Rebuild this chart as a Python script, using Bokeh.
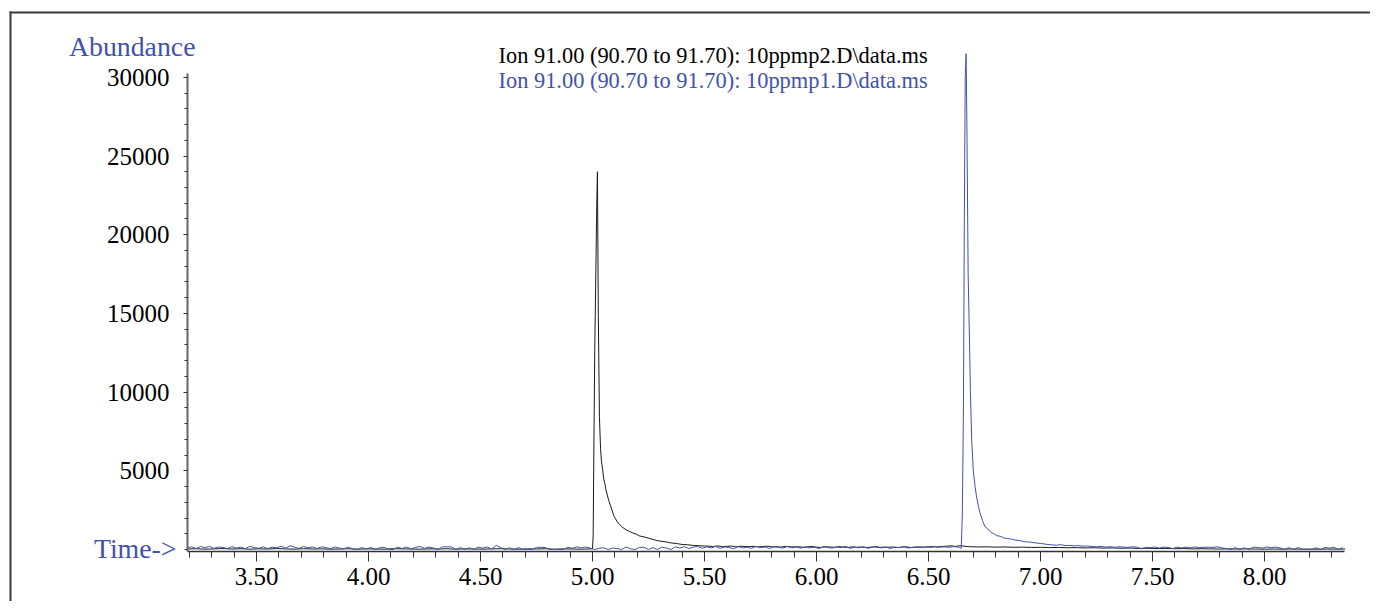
import numpy as np
from bokeh.plotting import figure
from bokeh.models import Range1d, FixedTicker, NumeralTickFormatter, Label, BoxAnnotation
from bokeh.embed import file_html
from bokeh.resources import INLINE

# ---------------- data ----------------
TITLE_BLACK = "Ion 91.00 (90.70 to 91.70): 10ppmp2.D\\data.ms"
TITLE_BLUE = "Ion 91.00 (90.70 to 91.70): 10ppmp1.D\\data.ms"

x_major = [3.5, 4.0, 4.5, 5.0, 5.5, 6.0, 6.5, 7.0, 7.5, 8.0]
x_minor = [3.2, 3.3, 3.4, 3.5, 3.6, 3.7, 3.8, 3.9, 4.0, 4.1, 4.2, 4.3, 4.4, 4.5, 4.6, 4.7, 4.8, 4.9,
           5.0, 5.1, 5.2, 5.3, 5.4, 5.5, 5.6, 5.7, 5.8, 5.9, 6.0, 6.1, 6.2, 6.3, 6.4, 6.5, 6.6, 6.7,
           6.8, 6.9, 7.0, 7.1, 7.2, 7.3, 7.4, 7.5, 7.6, 7.7, 7.8, 7.9, 8.0, 8.1, 8.2, 8.3]
y_major = [5000, 10000, 15000, 20000, 25000, 30000]
y_minor = [0, 1000, 2000, 3000, 4000, 5000, 6000, 7000, 8000, 9000, 10000, 11000, 12000, 13000,
           14000, 15000, 16000, 17000, 18000, 19000, 20000, 21000, 22000, 23000, 24000, 25000,
           26000, 27000, 28000, 29000, 30000]

# blue trace (10ppmp1): baseline scans every 0.02 min from 3.19 min
blue_base1_start = 3.19
blue_base1 = [80, 170, 60, 190, 110, 200, 70, 160, 130, 60, 180, 90, 150, 50, 200, 120, 80, 170, 60, 150,
              110, 210, 90, 240, 140, 70, 190, 110, 160, 60, 170, 120, 50, 160, 90, 40, 150, 30,
              0, 120, 30, 130, 0, 110, 140, 0, 0,
              150, 60, 160, 40, 140, 190, 70, 150, 100, 0,
              170, 170, 170,
              0, 120, 0, 110, 0,
              150, 90, 160,
              30, 260, 120, 0,
              110, 0, 120, 0, 0, 0,
              130, 140, 120,
              0, 0, 0, 0,
              140, 80, 170, 100, 160, 90,
              0, 80, 110, 0, 90, 60, 0,
              160, 40, 0, 130, 140, 0, 120, 0, 150, 90, 0, 170,
              90, 180, 60, 150, 200, 80, 170, 110, 190, 70, 160, 130, 50, 180, 100, 150, 70, 200,
              120, 160, 60, 170, 140, 90, 190, 110, 150, 80,
              170, 100, 150, 60, 180, 130, 90, 160, 120, 200, 70, 150, 110, 170, 80, 140, 190, 100,
              160, 60, 150, 120, 180, 90, 140, 170, 110, 160, 130, 190, 150, 170, 140, 180, 160]
blue_peak_t = [6.640, 6.646, 6.651, 6.656, 6.660, 6.664, 6.668, 6.672, 6.677, 6.683, 6.687, 6.693,
               6.700, 6.708, 6.715, 6.723, 6.730, 6.741, 6.752, 6.765, 6.778, 6.790, 6.805, 6.820,
               6.835, 6.850, 6.870, 6.890, 6.910, 6.930, 6.955, 6.980, 7.005, 7.030]
blue_peak_v = [120, 60, 2200, 9000, 21000, 30000, 31500, 26000, 17500, 13300, 10100, 6900,
               5000, 4000, 3300, 2750, 2300, 1850, 1450, 1300, 1100, 1020, 880, 840,
               740, 700, 660, 590, 560, 490, 470, 410, 380, 320]
blue_base2_start = 7.05
blue_base2 = [300, 270, 310, 250, 260, 230, 250, 210, 220, 190,
              170, 200, 150, 180, 140, 170, 160, 130, 170, 150,
              40, 140, 120, 160, 90, 150, 130, 60, 150, 100,
              150, 110, 160, 120, 140, 150, 130, 170, 100, 60,
              0, 120, 0, 110, 0, 150, 130, 90, 160, 120,
              150, 100, 0, 120, 0, 130, 0, 0, 0, 110,
              0, 130, 90, 140, 0, 120]

# black trace (10ppmp2)
black_base1_start = 3.19
black_base1 = [30, 50, 20, 40, 60, 30, 50, 20, 40, 30, 60, 40, 20, 50, 30, 40, 20, 30, 50, 20,
               40, 30, 20, 50, 40, 30, 20, 40, 30, 50, 20, 40, 30, 20, 40, 50, 30, 20, 40, 30,
               50, 20, 40, 30, 20, 40]
black_peak_t = [5.000, 5.003, 5.006, 5.010, 5.015, 5.019, 5.022, 5.026, 5.031, 5.036, 5.040, 5.045,
                5.050, 5.055, 5.060, 5.067, 5.073, 5.080, 5.087, 5.095, 5.103, 5.111, 5.120, 5.130,
                5.140, 5.150, 5.165, 5.180, 5.195, 5.210, 5.230, 5.250, 5.270, 5.290, 5.310, 5.330,
                5.350, 5.375, 5.400, 5.425, 5.450, 5.475, 5.500]
black_peak_v = [40, 900, 6300, 12600, 17700, 21900, 24000, 14800, 8400, 6400, 5600, 5100,
                4500, 4200, 3800, 3400, 3100, 2800, 2500, 2150, 1950, 1750, 1600, 1450,
                1350, 1250, 1150, 1050, 980, 860, 800, 720, 640, 560, 520, 480,
                420, 380, 320, 300, 260, 240, 220]
black_base2_start = 5.52
black_base2 = [210, 190, 230, 180, 200, 220, 170, 210, 190, 180,
               200, 160, 190, 210, 170, 180, 150, 200, 170, 160,
               180, 140, 170, 190, 150, 130, 170, 160, 140, 180,
               150, 130, 170, 140, 160, 120, 150, 170, 130, 150,
               140, 160, 120, 150, 170, 130, 140, 160, 150, 170,
               180, 150, 190, 210, 230, 200, 240]
black_base3_start = 6.68
black_base3 = [180, 160, 170, 150, 160, 140, 150, 130, 140, 120, 130, 110, 120, 100, 110, 90,
               100, 80, 90, 70, 80, 60, 70, 50, 60, 40, 50, 40, 30, 40, 30, 40, 30, 20, 30, 20,
               30, 20, 30, 20, 30, 20, 30]

# ---------------- assemble series ----------------
def scans(start, step, vals):
    return list(start + step * np.arange(len(vals)))

blue_t = scans(blue_base1_start, 0.02, blue_base1) + blue_peak_t + scans(blue_base2_start, 0.02, blue_base2)
blue_v = blue_base1 + blue_peak_v + blue_base2
black_t = (scans(black_base1_start, 0.04, black_base1) + black_peak_t
           + scans(black_base2_start, 0.02, black_base2) + scans(black_base3_start, 0.04, black_base3))
black_v = black_base1 + black_peak_v + black_base2 + black_base3

BLUE = "#4252a9"
FONT = "Liberation Serif"
W, H = 1370, 601

# The frame fills the whole canvas; axes are pinned inside it with fixed_location.
PX_PER_MIN = 224.0
PX_PER_UNIT = 15.74 / 1000.0
X0_PIX, X0_VAL = 256.0, 3.5          # pixel column of 3.50 min
Y0_PIX = 549.0                       # pixel row of abundance 0
x_lo = X0_VAL - X0_PIX / PX_PER_MIN
x_hi = X0_VAL + (W - X0_PIX) / PX_PER_MIN
y_hi = Y0_PIX / PX_PER_UNIT
y_lo = (Y0_PIX - H) / PX_PER_UNIT
X_AXIS_AT = (Y0_PIX - 551) / PX_PER_UNIT
Y_AXIS_AT = X0_VAL - (X0_PIX - 187) / PX_PER_MIN
X_END = X0_VAL + (1344 - X0_PIX) / PX_PER_MIN

p = figure(width=W, height=H, output_backend="svg", toolbar_location=None,
           x_range=Range1d(x_lo, x_hi), y_range=Range1d(y_lo, y_hi),
           min_border=0, min_border_left=0, min_border_right=0, min_border_top=0, min_border_bottom=0)
p.outline_line_color = None
p.xgrid.visible = False
p.ygrid.visible = False
p.background_fill_color = "white"
p.border_fill_color = "white"

p.line(black_t, black_v, line_color="#1a1a1a", line_width=1)
p.line(blue_t, blue_v, line_color=BLUE, line_width=1)

# axes
xa = p.xaxis[0]
xa.fixed_location = X_AXIS_AT
xa.bounds = (Y_AXIS_AT, X_END)
xa.ticker = FixedTicker(ticks=x_major, minor_ticks=x_minor)
xa.formatter = NumeralTickFormatter(format="0.00")
xa.axis_line_color = "#333333"
xa.axis_line_width = 1.5
xa.major_tick_line_color = "#333333"
xa.minor_tick_line_color = "#333333"
xa.major_tick_in = 0
xa.major_tick_out = 10
xa.minor_tick_in = 0
xa.minor_tick_out = 6
xa.major_label_text_font = FONT
xa.major_label_text_font_size = "25px"
xa.major_label_text_color = "black"
xa.major_label_standoff = 6

ya = p.yaxis[0]
ya.fixed_location = Y_AXIS_AT
ya.bounds = (X_AXIS_AT, 30250)
ya.ticker = FixedTicker(ticks=y_major, minor_ticks=y_minor)
ya.axis_line_color = "#666666"
ya.axis_line_width = 2
ya.major_tick_line_color = "#333333"
ya.minor_tick_line_color = "#333333"
ya.major_tick_in = 0
ya.major_tick_out = 4
ya.minor_tick_in = 0
ya.minor_tick_out = 3
ya.major_label_text_font = FONT
ya.major_label_text_font_size = "25px"
ya.major_label_text_color = "black"
ya.major_label_standoff = 14

# texts (screen units measured from the frame's bottom-left = canvas bottom-left)
def lab(px, py, text, size, color, align):
    return Label(x=px, y=H - py, x_units="screen", y_units="screen", text=text,
                 text_align=align, text_baseline="middle", text_font=FONT,
                 text_font_size=size, text_color=color)

p.add_layout(lab(195, 46, "Abundance", "27.8px", BLUE, "right"))
p.add_layout(lab(176, 548, "Time->", "27.8px", BLUE, "right"))
p.add_layout(lab(498, 55, TITLE_BLACK, "22.4px", "black", "left"))
p.add_layout(lab(498, 80, TITLE_BLUE, "22.4px", BLUE, "left"))

# outer frame: left and top edges only, each a thin filled box kept inside the canvas
def edge(left, right, top, bottom):
    return BoxAnnotation(left=left, right=right, top=top, bottom=bottom,
                         left_units="screen", right_units="screen",
                         top_units="screen", bottom_units="screen",
                         fill_color="#3a3a3a", fill_alpha=1.0, line_color=None,
                         editable=False)

p.add_layout(edge(9, 11, H - 11, 0))       # left edge
p.add_layout(edge(9, W, H - 11, H - 13))   # top edge

open("out.html", "w").write(file_html(p, INLINE))
